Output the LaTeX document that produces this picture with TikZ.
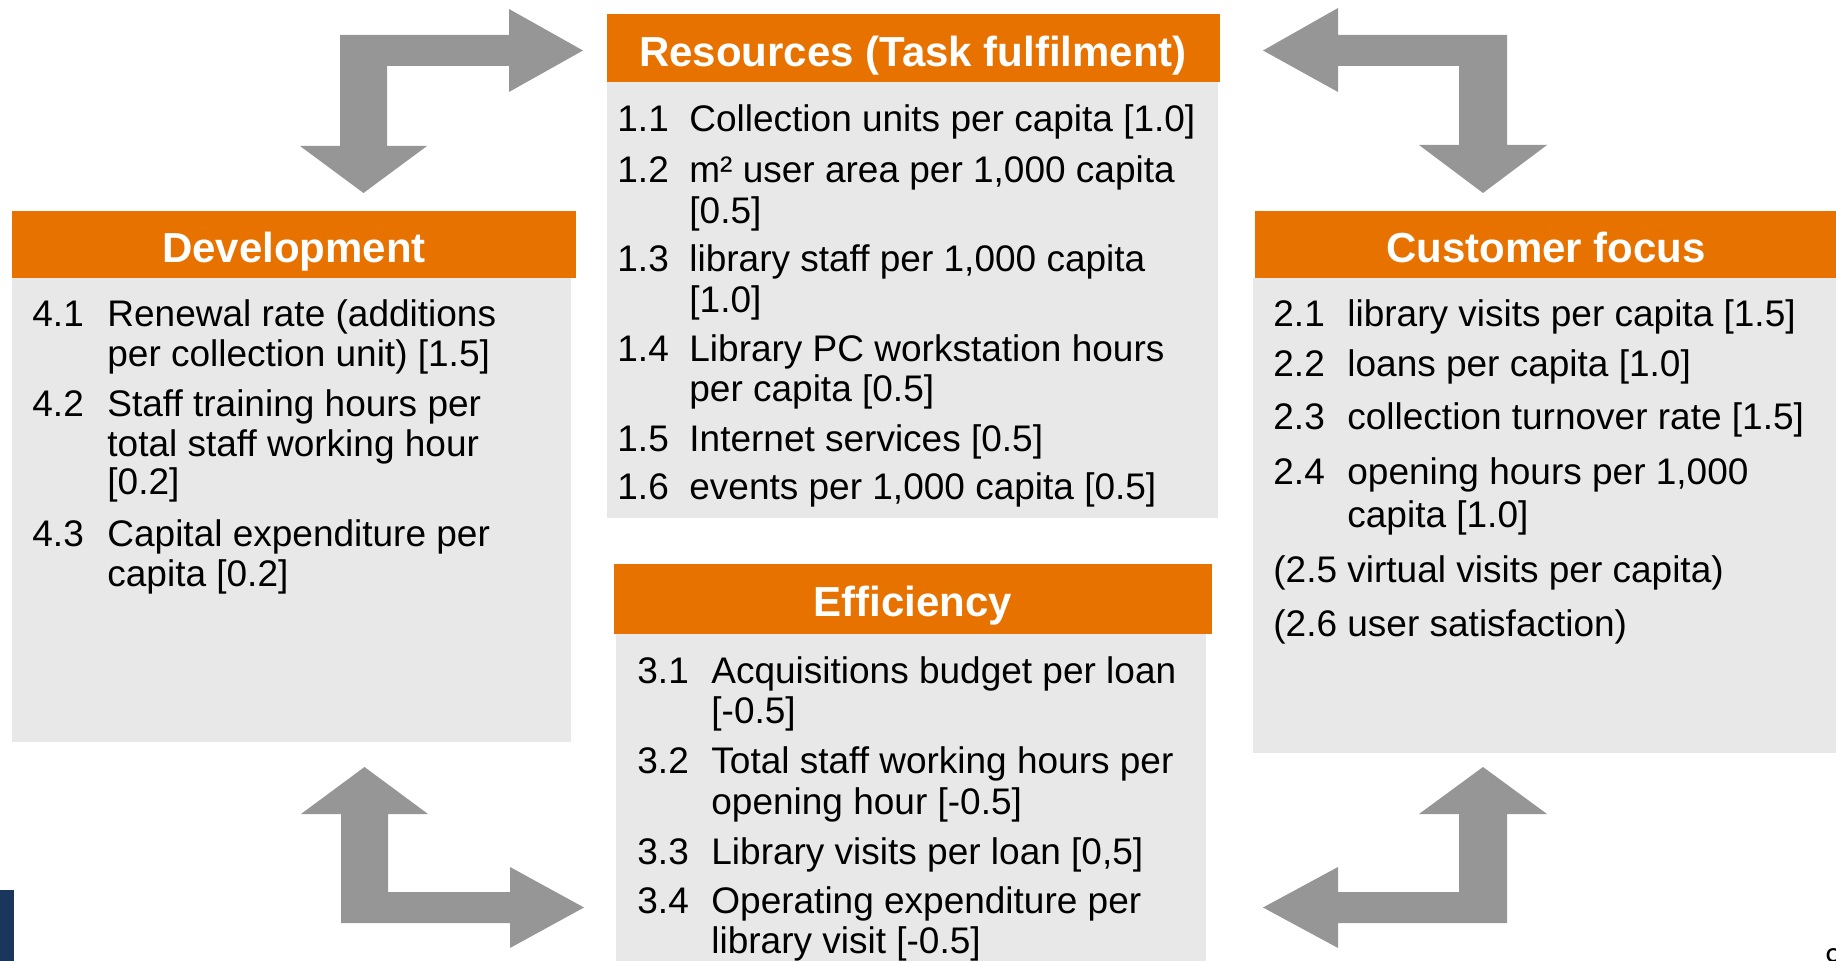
\documentclass[tikz,border=0pt]{standalone}
\usepackage{fontspec}
\setmainfont{Liberation Sans}
\definecolor{hdrorange}{RGB}{232,114,0}
\definecolor{boxgray}{RGB}{232,232,232}
\definecolor{arrowgray}{RGB}{150,150,150}
\definecolor{barblue}{RGB}{27,54,93}
\newcommand{\bodyfont}{\fontsize{18.5}{20}\selectfont}
\newcommand{\hdrfont}{\fontsize{21}{24}\selectfont\bfseries}
\tikzset{
  body/.style={font=\bodyfont, anchor=base west, inner sep=0pt, text=black},
  hdrtext/.style={font=\hdrfont, anchor=base, inner sep=0pt, text=white},
  hdrbox/.style={fill=hdrorange},
  grayfill/.style={fill=boxgray},
  bigarrow/.style={fill=arrowgray}
}
\begin{document}
\begin{tikzpicture}[x=0.5pt,y=-0.5pt]
\useasboundingbox (0,0) rectangle (1836,961);
% boxes
\fill[grayfill] (607,82) rectangle (1218,518);
\fill[hdrbox] (607,14) rectangle (1220,82);
\fill[grayfill] (12,278) rectangle (571,742);
\fill[hdrbox] (12,211) rectangle (576,278);
\fill[grayfill] (1253,278) rectangle (1836,753);
\fill[hdrbox] (1255,211) rectangle (1836,278);
\fill[grayfill] (616,634) rectangle (1206,961);
\fill[hdrbox] (614,564) rectangle (1212,634);
% headers
\node[hdrtext] (hres) at (913,67) {Resources (Task fulfilment)};
\node[hdrtext] (hdev) at (294,263) {Development};
\node[hdrtext] (hcus) at (1546,263) {Customer focus};
\node[hdrtext] (heff) at (913,617) {Efficiency};
% Resources items
\node[body] (r1n) at (617,132) {1.1};
\node[body] (r1t) at (689,132) {Collection units per capita [1.0]};
\node[body] (r2n) at (617,183) {1.2};
\node[body] (r2t) at (689,183) {m² user area per 1,000 capita};
\node[body] (r2u) at (689,224) {[0.5]};
\node[body] (r3n) at (617,272) {1.3};
\node[body] (r3t) at (689,272) {library staff per 1,000 capita};
\node[body] (r3u) at (689,313) {[1.0]};
\node[body] (r4n) at (617,362) {1.4};
\node[body] (r4t) at (689,362) {Library PC workstation hours};
\node[body] (r4u) at (689,402) {per capita [0.5]};
\node[body] (r5n) at (617,452) {1.5};
\node[body] (r5t) at (689,452) {Internet services [0.5]};
\node[body] (r6n) at (617,500) {1.6};
\node[body] (r6t) at (689,500) {events per 1,000 capita [0.5]};
% Development items
\node[body] (d1n) at (32,327) {4.1};
\node[body] (d1t) at (107,327) {Renewal rate (additions};
\node[body] (d1u) at (107,367) {per collection unit) [1.5]};
\node[body] (d2n) at (32,417) {4.2};
\node[body] (d2t) at (107,417) {Staff training hours per};
\node[body] (d2u) at (107,457) {total staff working hour};
\node[body] (d2v) at (107,495) {[0.2]};
\node[body] (d3n) at (32,547) {4.3};
\node[body] (d3t) at (107,547) {Capital expenditure per};
\node[body] (d3u) at (107,587) {capita [0.2]};
% Customer focus items
\node[body] (c1n) at (1273,327) {2.1};
\node[body] (c1t) at (1347,327) {library visits per capita [1.5]};
\node[body] (c2n) at (1273,377) {2.2};
\node[body] (c2t) at (1347,377) {loans per capita [1.0]};
\node[body] (c3n) at (1273,430) {2.3};
\node[body] (c3t) at (1347,430) {collection turnover rate [1.5]};
\node[body] (c4n) at (1273,485) {2.4};
\node[body] (c4t) at (1347,485) {opening hours per 1,000};
\node[body] (c4u) at (1347,528) {capita [1.0]};
\node[body] (c5) at (1273,583) {(2.5 virtual visits per capita)};
\node[body] (c6) at (1273,637) {(2.6 user satisfaction)};
% Efficiency items
\node[body] (e1n) at (637,684) {3.1};
\node[body] (e1t) at (711,684) {Acquisitions budget per loan};
\node[body] (e1u) at (711,724) {[-0.5]};
\node[body] (e2n) at (637,774) {3.2};
\node[body] (e2t) at (711,774) {Total staff working hours per};
\node[body] (e2u) at (711,814) {opening hour [-0.5]};
\node[body] (e3n) at (637,864) {3.3};
\node[body] (e3t) at (711,864) {Library visits per loan [0,5]};
\node[body] (e4n) at (637,913) {3.4};
\node[body] (e4t) at (711,913) {Operating expenditure per};
\node[body] (e4u) at (711,953) {library visit [-0.5]};
% arrows
\fill[bigarrow] (340,146) -- (300,146) -- (363.5,193) -- (427,146) -- (387,146) -- (387,66) -- (509,66) -- (509,92) -- (583,50.5) -- (509,9) -- (509,35) -- (340,35) -- cycle;
\fill[bigarrow] (341,814) -- (301,814) -- (364.5,767) -- (428,814) -- (388,814) -- (388,892) -- (510,892) -- (510,867) -- (584,907.5) -- (510,948) -- (510,923) -- (341,923) -- cycle;
\fill[bigarrow] (1507,814) -- (1547,814) -- (1483,767) -- (1419,814) -- (1459,814) -- (1459,892) -- (1338,892) -- (1338,867) -- (1263,907.5) -- (1338,948) -- (1338,923) -- (1507,923) -- cycle;
\fill[bigarrow] (1507,145) -- (1547,145) -- (1483,193) -- (1419,145) -- (1459,145) -- (1459,66) -- (1338,66) -- (1338,92) -- (1263,50.5) -- (1338,8) -- (1338,35) -- (1507,35) -- cycle;
% side bar and page number
\fill[barblue] (0,890) rectangle (14,961);
\node[font=\fontsize{15}{18}\selectfont, anchor=north west, inner sep=0pt] (pg) at (1825,948) {9};
\end{tikzpicture}
\end{document}
